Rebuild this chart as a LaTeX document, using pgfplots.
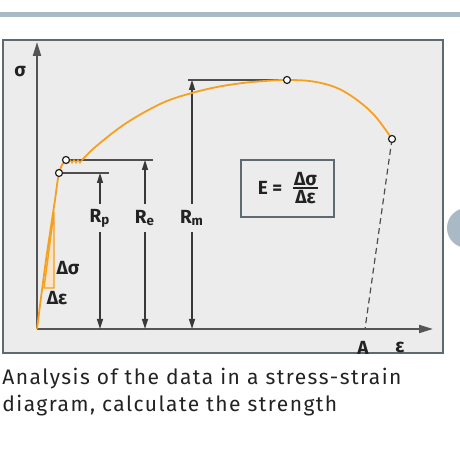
\documentclass[border=0pt]{standalone}
\usepackage{fontspec}
\setmainfont{Fira Sans}
\usepackage{pgfplots}
\pgfplotsset{compat=1.18}
\usetikzlibrary{arrows.meta}

\definecolor{band}{HTML}{A9B9C6}
\definecolor{panel}{HTML}{ECECEC}
\definecolor{frame}{HTML}{5E6A71}
\definecolor{curve}{HTML}{F5A01E}
\definecolor{peach}{HTML}{FDE3C8}
\definecolor{ink}{HTML}{222222}
\definecolor{axgray}{HTML}{555555}

\begin{document}
\begin{tikzpicture}
\useasboundingbox (0,0) rectangle (230pt,229pt);
\begin{axis}[at={(0,0)}, anchor=south west, scale only axis,
  width=230pt, height=229pt,
  xmin=-37, xmax=423, ymin=-129, ymax=329,
  hide axis, clip=false]

% background pieces
\addplot[band, line width=2.3pt] coordinates {(-37,314.5) (423,314.5)};
\fill[band] (axis cs:430,101) circle[radius=10pt];
\addplot[draw=frame, fill=panel, line width=1pt] coordinates
  {(-34,-24) (406,-24) (406,289) (-34,289) (-34,-24)} -- cycle;

% axes
\addplot[axgray, line width=1pt, -{Triangle[length=7pt,width=4pt]}]
  coordinates {(0,0) (0,287)};
\addplot[axgray, line width=1pt, -{Triangle[length=7pt,width=4pt]}]
  coordinates {(0,0) (396,0)};

% modulus triangle
\addplot[draw=curve, fill=peach, line width=0.7pt] coordinates
  {(7,41) (17,41) (17,117) (7,41)} -- cycle;

% reference lines
\addplot[ink!80, line width=0.8pt] coordinates {(22,156) (72,156)};
\addplot[ink!80, line width=0.8pt] coordinates {(29,169) (116,169)};
\addplot[ink!80, line width=0.8pt] coordinates {(151,249) (250,249)};

% dimension arrows
\pgfplotsset{dim/.style={line width=0.75pt, -{Triangle[length=5pt,width=3pt]}, color=ink!90}}
\addplot[dim] coordinates {(63,125) (63,156)};
\addplot[dim] coordinates {(63,97) (63,0)};
\addplot[dim] coordinates {(108,125) (108,169)};
\addplot[dim] coordinates {(108,97) (108,0)};
\addplot[dim] coordinates {(155,125) (155,249)};
\addplot[dim] coordinates {(155,97) (155,0)};

% necking to fracture: dashed line to A
\addplot[ink!80, line width=0.6pt, dash pattern=on 3pt off 2pt] coordinates {(355,190) (328,0)};

% stress-strain curve
\addplot[curve, line width=0.9pt, smooth, tension=0.5] coordinates
  {(0,0) (5,39) (9,69) (13,96) (18,129) (20,144) (22,156) (25,164) (29,169)};
\addplot[curve, line width=0.6pt] coordinates
  {(29,169) (31,166) (33,169) (35,166) (37,169) (39,166) (41,169) (43,166) (45,169)};
\addplot[curve, line width=0.9pt, smooth, tension=0.6] coordinates
  {(45,169) (55,179) (68,190) (85,203) (106,216) (130,228) (155,236)
   (180,242) (206,246) (228,248) (250,249) (276,247.5) (300,241)
   (320,229) (338,213) (355,190)};

% characteristic points
\addplot[only marks, mark=*, mark size=1.75pt,
  mark options={fill=white, draw=ink, line width=0.6pt}] coordinates
  {(22,156) (29,169) (250,249) (355,190)};

% formula box
\addplot[draw=frame, fill=panel, line width=0.8pt] coordinates
  {(204,112) (297,112) (297,169) (204,169) (204,112)} -- cycle;
\addplot[ink, line width=0.6pt] coordinates {(256,141) (281,141)};

\begin{scope}[every node/.style={text=ink, font=\bfseries\fontsize{9.5}{11}\selectfont, inner sep=0pt}]
\node at (axis cs:-17,257) {σ};
\node at (axis cs:363,-18) {ε};
\node at (axis cs:326,-19) {A};
\node at (axis cs:31,61) {Δσ};
\node at (axis cs:20,31) {Δε};
\node at (axis cs:63,111) {R\textsubscript{p}};
\node at (axis cs:108,111) {R\textsubscript{e}};
\node at (axis cs:155,111) {R\textsubscript{m}};
\node at (axis cs:233,141) {E =};
\node at (axis cs:268.5,150) {Δσ};
\node at (axis cs:268.5,132) {Δε};
\end{scope}

% caption
\begin{scope}[every node/.style={anchor=base west, inner sep=0pt, text=ink,
    font=\fontsize{10.5}{13}\selectfont\addfontfeature{LetterSpace=7}}]
\node at (axis cs:-35,-56) {Analysis of the data in a stress-strain};
\node at (axis cs:-35,-82.7) {diagram, calculate the strength};
\end{scope}
\end{axis}
\end{tikzpicture}
\end{document}
